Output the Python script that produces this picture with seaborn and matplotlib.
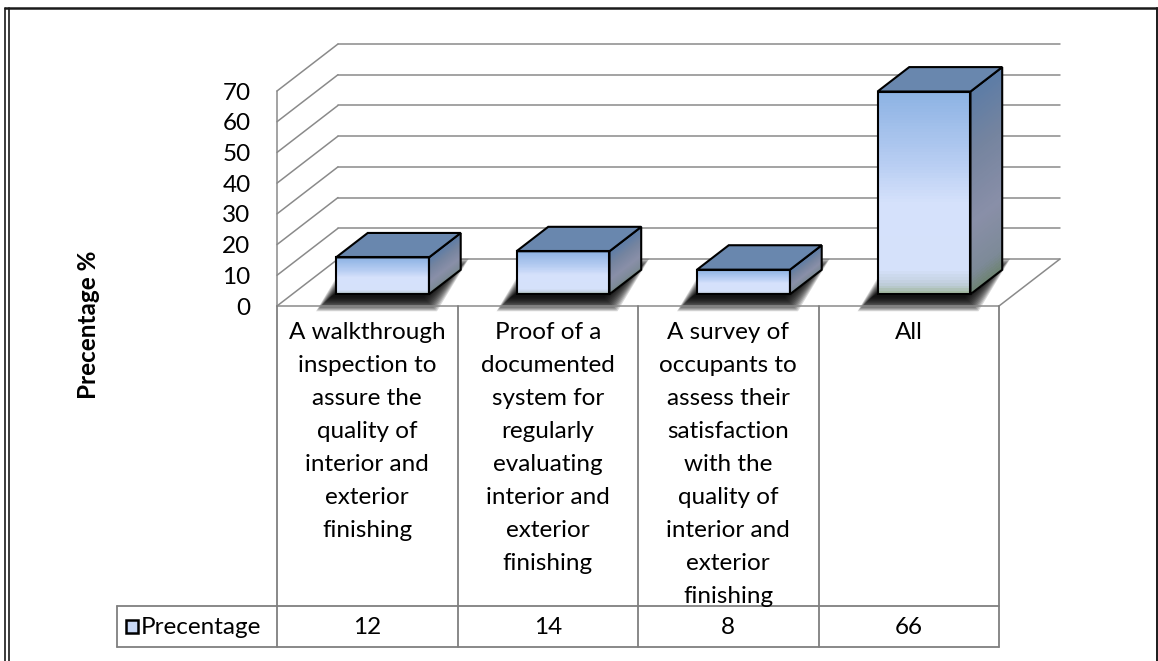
import numpy as np
import pandas as pd
import matplotlib
matplotlib.use("Agg")
import matplotlib.pyplot as plt
import matplotlib.transforms as mtrans
from matplotlib.patches import Polygon, Rectangle
from matplotlib.lines import Line2D
from matplotlib.colors import LinearSegmentedColormap
import seaborn as sns

# ---- data -------------------------------------------------------------
categories = [
    "A walkthrough\ninspection to\nassure the\nquality of\ninterior and\nexterior\nfinishing",
    "Proof of a\ndocumented\nsystem for\nregularly\nevaluating\ninterior and\nexterior\nfinishing",
    "A survey of\noccupants to\nassess their\nsatisfaction\nwith the\nquality of\ninterior and\nexterior\nfinishing",
    "All",
]
values = [12, 14, 8, 66]
series_name = "Precentage"
y_ticks = [0, 10, 20, 30, 40, 50, 60, 70]
y_label = "Precentage %"

# ---- style ------------------------------------------------------------
sns.set_theme(style="white")
plt.rcParams["font.family"] = ["Lato", "DejaVu Sans"]
FS = 17.5

W, H, DPI = 1158, 661, 100
fig = plt.figure(figsize=(W / DPI, H / DPI), dpi=DPI)
fig.patch.set_facecolor("white")

# pixel-from-top coordinates for frame and table
ptr = mtrans.Affine2D().scale(1, -1).translate(0, H)

# front plane of the 3-D box
X0, X1, Y0, YTOP = 277, 999, 306, 91
ax = fig.add_axes([X0 / W, 1 - Y0 / H, (X1 - X0) / W, (Y0 - YTOP) / H])
ax.set_facecolor("none")

df = pd.DataFrame({"category": categories, "value": values})
sns.barplot(data=df, x="category", y="value", width=0.515, color="#c8d8f5",
            errorbar=None, ax=ax, zorder=6)

ax.set_xlim(-0.5, 3.5)
ax.set_ylim(0, 70)
for s in ax.spines.values():
    s.set_visible(False)
ax.set_xticks([])
ax.set_xlabel("")
ax.set_yticks(y_ticks)
ax.set_yticklabels([str(t) for t in y_ticks], fontsize=FS, color="black")
ax.tick_params(axis="y", length=0, pad=19)
ax.set_ylabel(y_label, fontsize=FS, fontweight="bold", color="black")
ax.yaxis.set_label_coords((88 - X0) / (X1 - X0), (Y0 - 325) / (Y0 - YTOP))
ax.yaxis.label.set_va("center")

# depth of the box, expressed in data units
DEPTH_PX = np.array([61.0, 47.0])
p0 = ax.transData.transform((0, 0))
p1 = ax.transData.transform((1, 10))
sx, sy = p1[0] - p0[0], (p1[1] - p0[1]) / 10
DX, DY = DEPTH_PX[0] / sx, DEPTH_PX[1] / sy

GRID = "#8a8a8a"
GLW = 1.1
# walls: gridlines on side wall and back wall
for v in y_ticks:
    ax.plot([-0.5, -0.5 + DX], [v, v + DY], color=GRID, lw=GLW, clip_on=False, zorder=1)
    ax.plot([-0.5 + DX, 3.5 + DX], [v + DY, v + DY], color=GRID, lw=GLW, clip_on=False, zorder=1)
ax.plot([-0.5, -0.5], [0, 70], color=GRID, lw=GLW, clip_on=False, zorder=1)
ax.plot([3.5, 3.5 + DX], [0, DY], color=GRID, lw=GLW, clip_on=False, zorder=1)

# ---- 3-D bars -----------------------------------------------------------
FRONT_F = 0.25   # front face position inside the depth
BAR_D = 0.52     # bar depth
NSTRIP = 70      # strips used for the shaded faces

front_cmap = LinearSegmentedColormap.from_list("front", [
    (0.00, "#a3b9a0"), (0.05, "#c0cedc"), (0.12, "#d5e1fa"),
    (0.45, "#d5e1fb"), (0.65, "#b7cdf2"), (1.00, "#8cb2e3")])
side_cmap = LinearSegmentedColormap.from_list("side", [
    (0.00, "#6c836f"), (0.10, "#7d8a98"), (0.35, "#898fa8"),
    (0.70, "#75849f"), (1.00, "#5c7ca6")])
TOP_C = "#6987ae"

bars = list(ax.patches)
for p in bars:
    off = mtrans.ScaledTranslation(FRONT_F * DEPTH_PX[0] / DPI,
                                   FRONT_F * DEPTH_PX[1] / DPI, fig.dpi_scale_trans)
    tr = ax.transData + off
    p.set_transform(tr)
    p.set_facecolor("none")
    p.set_edgecolor("black")
    p.set_linewidth(1.5)
    p.set_clip_on(False)
    x, w, h = p.get_x(), p.get_width(), p.get_height()
    bx, by = BAR_D * DX, BAR_D * DY

    # soft shadow on the floor: stacked translucent footprints
    for r in np.arange(14, -1, -1.0):
        rx, ry = r / sx, r / sy
        ox, oy = -6 / sx, -3 / sy
        foot = [(x - rx + ox, -ry + oy), (x + w + rx + ox, -ry + oy),
                (x + w + bx + rx + ox, by + ry + oy), (x + bx - rx + ox, by + ry + oy)]
        ax.add_patch(Polygon(foot, closed=True, transform=tr, facecolor="black",
                             edgecolor="none", alpha=0.15, zorder=2, clip_on=False))

    # shaded front and side faces, built from thin strips
    for k in range(NSTRIP):
        y0, y1 = h * k / NSTRIP, h * (k + 1) / NSTRIP
        fc = front_cmap((k + 0.5) / NSTRIP)
        ax.add_patch(Rectangle((x, y0), w, y1 - y0, transform=tr, facecolor=fc,
                               edgecolor="none", antialiased=False, zorder=3,
                               clip_on=False))
        sc = side_cmap((k + 0.5) / NSTRIP)
        ax.add_patch(Polygon([(x + w, y0), (x + w + bx, y0 + by), (x + w + bx, y1 + by),
                              (x + w, y1)], closed=True, transform=tr, facecolor=sc,
                             edgecolor="none", antialiased=False, zorder=3,
                             clip_on=False))

    # outlines of the side and top faces
    ax.add_patch(Polygon([(x + w, 0), (x + w + bx, by), (x + w + bx, h + by), (x + w, h)],
                         closed=True, transform=tr, facecolor="none", edgecolor="black",
                         lw=1.5, zorder=5, clip_on=False))
    ax.add_patch(Polygon([(x, h), (x + w, h), (x + w + bx, h + by), (x + bx, h + by)],
                         closed=True, transform=tr, facecolor=TOP_C, edgecolor="black",
                         lw=1.5, zorder=5, clip_on=False))

ax.set_xlim(-0.5, 3.5)
ax.set_ylim(0, 70)

# ---- data table ---------------------------------------------------------
TBL = "#7f7f7f"
TLW = 1.3
col_px = [ax.transData.transform((b, 0))[0] for b in [-0.5, 0.5, 1.5, 2.5, 3.5]]
ROW_TOP, ROW_BOT, KEY_LEFT = 606, 647, 117


def pline(xs_, ys_, **kw):
    fig.add_artist(Line2D(xs_, ys_, transform=ptr, **kw))


pline([col_px[0], col_px[-1]], [Y0, Y0], color=GRID, lw=GLW)
for cx in col_px:
    pline([cx, cx], [Y0, ROW_BOT], color=TBL, lw=TLW)
pline([KEY_LEFT, col_px[-1]], [ROW_TOP, ROW_TOP], color=TBL, lw=TLW)
pline([KEY_LEFT, col_px[-1]], [ROW_BOT, ROW_BOT], color=TBL, lw=TLW)
pline([KEY_LEFT, KEY_LEFT], [ROW_TOP, ROW_BOT], color=TBL, lw=TLW)

LINE_STEP, FIRST_BASE = 33, 339
for i, cat in enumerate(categories):
    cx = (col_px[i] + col_px[i + 1]) / 2
    for j, line in enumerate(cat.split("\n")):
        fig.text(cx, FIRST_BASE + j * LINE_STEP, line, transform=ptr, ha="center",
                 va="baseline", fontsize=FS, color="black")
    fig.text(cx, 626, str(values[i]), transform=ptr, ha="center",
             va="center_baseline", fontsize=FS, color="black")

# legend key of the series
key = Rectangle((126, 620), 12, 13, transform=ptr, facecolor="#c8d8f5",
                edgecolor="black", lw=1.8)
fig.add_artist(key)
fig.text(141, 626, series_name, transform=ptr, ha="left", va="center_baseline",
         fontsize=FS, color="black")

# ---- outer frame --------------------------------------------------------
pline([5, 1157], [8, 8], color="#1a1a1a", lw=1.8)
pline([5, 5], [8, H], color="#1a1a1a", lw=1.2)
pline([8.5, 8.5], [8, H], color="#1a1a1a", lw=1.2)
pline([1157, 1157], [8, H], color="#1a1a1a", lw=1.4)

fig.savefig("out.png", dpi=DPI, facecolor="white")
